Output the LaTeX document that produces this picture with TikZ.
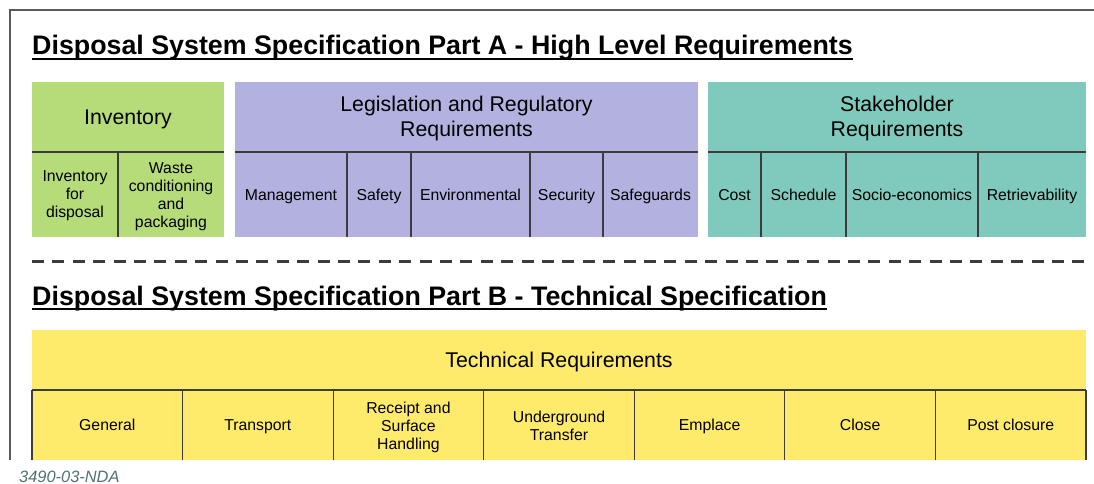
\documentclass[tikz,border=0pt]{standalone}
\usepackage{fontspec}
\setmainfont{Liberation Sans}
\usetikzlibrary{positioning}

\definecolor{invgreen}{HTML}{B5DC78}
\definecolor{leglilac}{HTML}{B3B1E0}
\definecolor{stkteal}{HTML}{80CABD}
\definecolor{techyellow}{HTML}{FFEB6B}
\definecolor{rulegray}{HTML}{3C3C3C}
\definecolor{framegray}{HTML}{5A5A5A}
\definecolor{tagteal}{HTML}{4F7272}

\newcommand{\cellstrut}{\rule[-3.6pt]{0pt}{18.6pt}}
\newcommand{\headstrut}{\rule[-5.1pt]{0pt}{25.6pt}}
% extra room above the first line of a multi-line label
\newcommand{\upgap}[1]{\rule{0pt}{#1}}

\begin{document}
\begin{tikzpicture}[%
x=1pt,
y=-1pt,
head/.style={
inner sep=0pt,
outer sep=0pt,
anchor=north west,
align=center,
execute at begin node=\headstrut,
execute at end node=\headstrut,
font=\fontsize{21.3}{25}\selectfont,},
cell/.style={
inner sep=0pt,
outer sep=0pt,
minimum height=85pt,
align=center,
execute at begin node=\cellstrut,
execute at end node=\cellstrut,
font=\fontsize{15.8}{18}\selectfont,},
tcell/.style={
cell,
minimum height=70pt,
minimum width=150.57pt,
fill=techyellow,},
title/.style={
inner sep=0pt,
anchor=base west,
font=\bfseries\fontsize{26.8}{30}\selectfont,},
divider/.style={
draw=rulegray,
line width=1.1pt,},
uline/.style={
line width=1.7pt,},
]
\useasboundingbox (0,0) rectangle (1094,484);
\draw[framegray, line width=1.2pt] (10,460) -- (10,10) -- (1094,10);

% Part A
\node[title] (titleA) at (32,55) {Disposal System Specification Part A - High Level Requirements};
\draw[uline] ([yshift=-4pt]titleA.base west) -- ([yshift=-4pt]titleA.base east);

\node[head, fill=invgreen, minimum width=192pt, minimum height=70pt] (inv) at (32,82) {Inventory};
\node[cell, fill=invgreen, anchor=north west, minimum width=86pt] (invdisp) at (inv.south west) {\upgap{13.4pt}Inventory\\for\\disposal};
\node[cell, fill=invgreen, right=0pt of invdisp, minimum width=106pt] (waste) {\upgap{15.4pt}Waste\\conditioning\\and\\packaging};

\node[head, fill=leglilac, minimum width=463pt, minimum height=70pt] (leg) at (235,82) {\upgap{19.5pt}Legislation and Regulatory\\Requirements};
\node[cell, fill=leglilac, anchor=north west, minimum width=112pt] (mgmt) at (leg.south west) {Management};
\node[cell, fill=leglilac, right=0pt of mgmt, minimum width=64pt] (safety) {Safety};
\node[cell, fill=leglilac, right=0pt of safety, minimum width=119pt] (env) {Environmental};
\node[cell, fill=leglilac, right=0pt of env, minimum width=73pt] (secur) {Security};
\node[cell, fill=leglilac, right=0pt of secur, minimum width=95pt] (safeg) {Safeguards};

\node[head, fill=stkteal, minimum width=378pt, minimum height=70pt] (stake) at (708,82) {\upgap{19.5pt}Stakeholder\\Requirements};
\node[cell, fill=stkteal, anchor=north west, minimum width=53pt] (cost) at (stake.south west) {Cost};
\node[cell, fill=stkteal, right=0pt of cost, minimum width=85pt] (sched) {Schedule};
\node[cell, fill=stkteal, right=0pt of sched, minimum width=132pt] (socio) {Socio-economics};
\node[cell, fill=stkteal, right=0pt of socio, minimum width=108pt] (retr) {Retrievability};

\foreach \hd in {inv,leg,stake}
\draw[divider] (\hd.south west) -- (\hd.south east);
\foreach \cl in {waste,safety,env,secur,safeg,sched,socio,retr}
\draw[divider] (\cl.north west) -- (\cl.south west);

\draw[rulegray, line width=3pt, dash pattern=on 12pt off 8.4pt] (32,261) -- (1086,261);

% Part B
\node[title] (titleB) at (32,305) {Disposal System Specification Part B - Technical Specification};
\draw[uline] ([yshift=-4pt]titleB.base west) -- ([yshift=-4pt]titleB.base east);

\node[head, fill=techyellow, minimum width=1054pt, minimum height=60pt] (tech) at (32,330) {Technical Requirements};
\node[tcell, anchor=north west] (general) at (tech.south west) {General};
\node[tcell, right=0pt of general] (transp) {Transport};
\node[tcell, right=0pt of transp] (receipt) {\upgap{17.4pt}Receipt and\\Surface\\Handling};
\node[tcell, right=0pt of receipt] (ugtrans) {\upgap{17.4pt}Underground\\Transfer};
\node[tcell, right=0pt of ugtrans] (emplace) {Emplace};
\node[tcell, right=0pt of emplace] (close) {Close};
\node[tcell, right=0pt of close] (postcl) {Post closure};

\draw[divider] (tech.south west) -- (tech.south east);
\foreach \cl in {general,transp,receipt,ugtrans,emplace,close,postcl}
\draw[divider] (\cl.north west) -- (\cl.south west);
\draw[divider] (postcl.north east) -- (postcl.south east);

\node[anchor=base west, inner sep=0pt, text=tagteal, font=\itshape\fontsize{16.4}{18}\selectfont] (tag) at (19,482) {3490-03-NDA};
\end{tikzpicture}
\end{document}
